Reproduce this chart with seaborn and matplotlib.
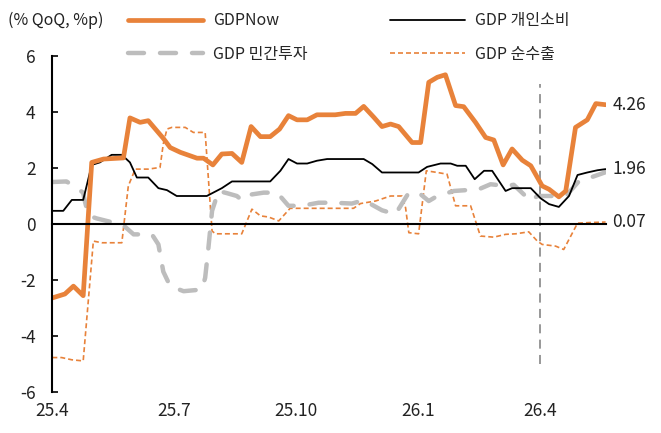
import matplotlib
matplotlib.use('Agg')
import matplotlib.pyplot as plt
import pandas as pd
import seaborn as sns

# x = months since 2025.4
tick_pos = [0, 3, 6, 9, 12]
tick_labels = ['25.4', '25.7', '25.10', '26.1', '26.4']
marker_x = 12  # 26.4 dashed divider

gdpnow_x = [0, 0.31, 0.52, 0.76, 0.97, 1.26, 1.75, 1.91, 2.16, 2.36, 2.73, 2.9, 3.15, 3.56, 3.72,
            3.95, 4.17, 4.42, 4.66, 4.89, 5.12, 5.36, 5.59, 5.81, 6.02, 6.27, 6.51, 6.96, 7.21, 7.46,
            7.66, 7.91, 8.11, 8.32, 8.52, 8.85, 9.06, 9.26, 9.47, 9.67, 9.92, 10.12, 10.41, 10.66,
            10.86, 11.09, 11.31, 11.56, 11.77, 12.05, 12.22, 12.46, 12.63, 12.87, 13.16, 13.37, 13.61]
gdpnow_y = [-2.64, -2.5, -2.22, -2.56, 2.2, 2.32, 2.36, 3.79, 3.63, 3.69, 3.06, 2.73, 2.56, 2.35, 2.35,
            2.11, 2.5, 2.52, 2.2, 3.48, 3.12, 3.12, 3.39, 3.87, 3.72, 3.72, 3.9, 3.9, 3.95, 3.95,
            4.2, 3.81, 3.48, 3.57, 3.48, 2.91, 2.91, 5.06, 5.24, 5.33, 4.23, 4.19, 3.63, 3.09,
            3.0, 2.11, 2.68, 2.28, 2.08, 1.36, 1.24, 0.97, 1.18, 3.45, 3.72, 4.3, 4.26]

cons_x = [0, 0.27, 0.48, 0.76, 0.97, 1.17, 1.46, 1.71, 1.91, 2.08, 2.36, 2.61, 2.82, 3.06, 3.8,
          4.17, 4.42, 5.36, 5.61, 5.81, 6.02, 6.27, 6.51, 6.76, 7.66, 7.87, 8.11, 9.01, 9.22, 9.55,
          9.8, 9.96, 10.17, 10.39, 10.62, 10.82, 11.15, 11.31, 11.77, 12.01, 12.22, 12.46, 12.71,
          12.92, 13.16, 13.41, 13.61]
cons_y = [0.47, 0.47, 0.86, 0.86, 2.11, 2.2, 2.47, 2.47, 2.2, 1.66, 1.66, 1.28, 1.21, 1.0, 1.0,
          1.28, 1.52, 1.52, 1.9, 2.32, 2.16, 2.16, 2.26, 2.32, 2.32, 2.14, 1.84, 1.84, 2.04, 2.16,
          2.16, 2.08, 2.08, 1.6, 1.9, 1.9, 1.18, 1.28, 1.28, 0.92, 0.71, 0.61, 1.0,
          1.75, 1.84, 1.92, 1.96]

inv_x = [0, 0.35, 0.76, 0.8, 0.89, 1.09, 1.42, 1.79, 2.0, 2.45, 2.61, 2.73, 2.9, 3.23, 3.68,
         3.76, 3.84, 3.93, 4.09, 4.3, 4.54, 4.66, 4.83, 5.2, 5.53, 5.81, 6.14, 6.55, 6.92, 7.37,
         7.66, 8.11, 8.44, 8.77, 9.06, 9.26, 9.47, 9.88, 10.49, 10.78, 11.15, 11.35, 11.77, 11.93,
         12.38, 12.67, 12.96, 13.24, 13.61]
inv_y = [1.5, 1.52, 1.12, 0.82, 0.3, 0.2, 0.08, -0.1, -0.37, -0.37, -0.73, -1.7, -2.22, -2.4, -2.34,
         -1.92, -0.85, 0.47, 1.18, 1.1, 1.0, 0.85, 1.04, 1.12, 1.12, 0.65, 0.65, 0.76, 0.76, 0.73,
         0.85, 0.49, 0.35, 1.12, 1.06, 0.82, 1.0, 1.18, 1.24, 1.42, 1.36, 1.4, 0.82, 1.0,
         1.0, 1.06, 1.54, 1.66, 1.85]

nx_x = [0, 0.23, 0.48, 0.76, 1.01, 1.22, 1.71, 1.87, 2.04, 2.36, 2.65, 2.73, 2.82, 2.94, 3.27,
        3.47, 3.76, 3.93, 4.01, 4.66, 4.91, 5.12, 5.32, 5.57, 5.85, 7.41, 7.58, 7.95, 8.32, 8.6,
        8.69, 8.77, 9.01, 9.2, 9.47, 9.71, 9.92, 10.29, 10.53, 10.86, 11.15, 11.4, 11.72, 11.93,
        12.05, 12.38, 12.58, 12.92, 13.2, 13.61]
nx_y = [-4.77, -4.77, -4.85, -4.89, -0.61, -0.67, -0.67, 1.36, 1.96, 1.96, 2.02, 2.86, 3.39, 3.45, 3.45,
        3.27, 3.27, -0.25, -0.35, -0.35, 0.53, 0.29, 0.25, 0.11, 0.56, 0.56, 0.73, 0.82, 1.0, 1.0,
        0.58, -0.31, -0.35, 1.9, 1.84, 1.78, 0.65, 0.65, -0.43, -0.47, -0.37, -0.35, -0.28, -0.61,
        -0.73, -0.79, -0.91, 0.03, 0.05, 0.07]

orange = '#E8823A'
gray = '#BDBDBD'

sns.set_style('white')
plt.rcParams['font.family'] = ['Noto Sans CJK KR', 'DejaVu Sans']
plt.rcParams['axes.unicode_minus'] = False

fig = plt.figure(figsize=(6.61, 4.33), dpi=100)
ax = fig.add_axes([52.3 / 661, 1 - 392 / 433, (606 - 52.3) / 661, (392 - 56) / 433])

sns.lineplot(x=nx_x, y=nx_y, ax=ax, color=orange, lw=1.2, linestyle=(0, (3, 1.8)),
             estimator=None, sort=False, label='GDP 순수출')
sns.lineplot(x=inv_x, y=inv_y, ax=ax, color=gray, lw=3.2, linestyle=(0, (3.6, 3.6)),
             dash_capstyle='round', estimator=None, sort=False, label='GDP 민간투자')
sns.lineplot(x=cons_x, y=cons_y, ax=ax, color='black', lw=1.3,
             estimator=None, sort=False, label='GDP 개인소비')
sns.lineplot(x=gdpnow_x, y=gdpnow_y, ax=ax, color=orange, lw=3.4,
             estimator=None, sort=False, label='GDPNow')

ax.vlines(marker_x, -5, 5, color='#909090', lw=1.3, linestyles=(0, (5, 3.5)), zorder=1)

# end-point labels
for xs, ys in [(gdpnow_x, gdpnow_y), (cons_x, cons_y), (nx_x, nx_y)]:
    ax.annotate(f'{ys[-1]:.2f}', (xs[-1], ys[-1]), xytext=(5, 0), textcoords='offset points',
                va='center', ha='left', fontsize=12.5, color='#222222', annotation_clip=False)

ax.set_xlim(0, 13.62)
ax.set_ylim(-6, 6)
ax.set_yticks([-6, -4, -2, 0, 2, 4, 6])
ax.set_yticklabels(['-6', '-4', '-2', '0', '2', '4', '6'])
ax.set_xticks(tick_pos)
ax.tick_params(axis='x', direction='in', length=5, width=1.4, labelbottom=False)
ax.tick_params(axis='y', direction='in', length=4.5, width=1.4, pad=12, labelsize=12.5,
               labelcolor='#222222', left=True)
for s in ['top', 'right']:
    ax.spines[s].set_visible(False)
ax.spines['bottom'].set_position(('data', 0))
ax.spines['bottom'].set_linewidth(1.5)
ax.spines['left'].set_linewidth(1.5)
ax.spines['bottom'].set_color('black')
ax.spines['left'].set_color('black')
ax.set_xlabel('')
ax.set_ylabel('')

sec = ax.secondary_xaxis('bottom')
sec.set_xticks(tick_pos)
sec.set_xticklabels(tick_labels)
sec.tick_params(length=0, pad=7, labelsize=12.5, labelcolor='#222222')
sec.spines['bottom'].set_visible(False)

ax.get_legend().remove()
h, l = ax.get_legend_handles_labels()
order = ['GDPNow', 'GDP 민간투자', 'GDP 개인소비', 'GDP 순수출']
hd = dict(zip(l, h))
fig.legend([hd[k] for k in order], order, loc='upper left', bbox_to_anchor=(128 / 661, 0.972),
           ncol=2, frameon=False, fontsize=11.5, handlelength=4.7, handletextpad=0.6,
           columnspacing=5.2, labelspacing=1.05, borderpad=0, borderaxespad=0)

fig.text(8 / 661, 1 - 20 / 433, '(% QoQ, %p)', va='center', ha='left', fontsize=11.5, color='#222222')

fig.savefig('out.png', dpi=100)
